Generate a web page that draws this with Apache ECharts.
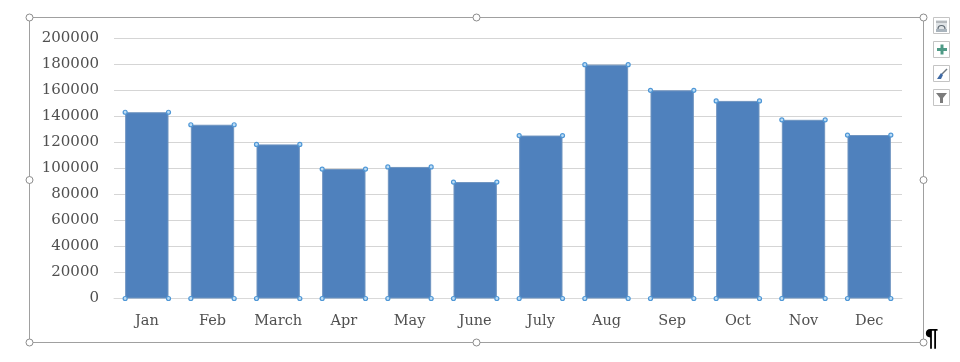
<!DOCTYPE html>
<html><head><meta charset="utf-8">
<style>html,body{margin:0;padding:0;background:#fff}#c{width:960px;height:362px}</style>
<script src="https://cdn.jsdelivr.net/npm/echarts@6/dist/echarts.min.js"></script>
</head><body><div id="c"></div>
<script>
const categories=['Jan','Feb','March','Apr','May','June','July','Aug','Sep','Oct','Nov','Dec'];
const values=[143000,133400,118300,99400,101000,89400,125100,179500,159800,151700,137200,125500];
const FONT='"DejaVu Serif"';
const chart=echarts.init(document.getElementById('c'),null,{renderer:'canvas'});
const BAR=0.66;
function handle(x,y){return {type:'circle',shape:{cx:x,cy:y,r:3.5},style:{fill:'#fff',stroke:'#8c8c8c',lineWidth:1},z:20};}
function box(y){return {type:'rect',shape:{x:933.5,y:y+.5,width:16,height:16},style:{fill:'#fff',stroke:'#c4c4c4',lineWidth:1},z:20};}
const frame={type:'rect',shape:{x:29.5,y:17.5,width:894,height:325},style:{fill:'none',stroke:'#a0a0a0',lineWidth:1},z:19};
const graphics=[frame,
 handle(29.5,17.5),handle(476.5,17.5),handle(923.5,17.5),handle(29.5,180),handle(923.5,180),handle(29.5,342.5),handle(476.5,342.5),handle(923.5,342.5),
 box(17),box(41),box(65),box(89),
 {type:'rect',shape:{x:936,y:20,width:11,height:11},style:{fill:'#dfe3e6'},z:21},
 {type:'rect',shape:{x:936,y:29,width:11,height:3},style:{fill:'#a9b4bd'},z:21},
 {type:'line',shape:{x1:936,y1:22,x2:947,y2:22},style:{stroke:'#8a8f94',lineWidth:1},z:21},
 {type:'arc',shape:{cx:941.5,cy:29,r:3.5,startAngle:Math.PI,endAngle:0},style:{fill:'none',stroke:'#5f6a73',lineWidth:1.2},z:22},
 {type:'rect',shape:{x:937,y:48,width:10,height:3},style:{fill:'#4f9a86'},z:21},
 {type:'rect',shape:{x:940.5,y:44.5,width:3,height:10},style:{fill:'#4f9a86'},z:21},
 {type:'line',shape:{x1:942,y1:74,x2:947,y2:69},style:{stroke:'#6d7780',lineWidth:1.5},z:21},
 {type:'polygon',shape:{points:[[937,79],[941,73],[943,75],[941,79]]},style:{fill:'#3f6aa5'},z:21},
 {type:'polygon',shape:{points:[[936,93],[947,93],[943,98],[943,103],[940,103],[940,98]]},style:{fill:'#7b7b7b'},z:21},
 {type:'text',style:{x:925,y:327,text:'\u00B6',font:'bold 24px "Liberation Sans"',fill:'#000'},z:21}
];
chart.setOption({
 animation:false,backgroundColor:'#fff',
 graphic:graphics,
 grid:{left:114,right:58,top:38,bottom:63.5,containLabel:false},
 xAxis:{type:'category',data:categories,axisTick:{show:false},
  axisLine:{lineStyle:{color:'#d9d9d9',width:1}},
  axisLabel:{color:'#505050',fontFamily:FONT,fontSize:14.5,margin:15,interval:0}},
 yAxis:{type:'value',min:0,max:200000,interval:20000,axisLine:{show:false},axisTick:{show:false},
  axisLabel:{color:'#505050',fontFamily:FONT,fontSize:15,margin:15,padding:[2,0,0,0],formatter:v=>String(v)},
  splitLine:{lineStyle:{color:'#d5d5d5',width:1}}},
 series:[
  {type:'bar',data:values,barWidth:(BAR*100)+'%',itemStyle:{color:'#4f81bd',borderColor:'#6f94c0',borderWidth:1},z:3},
  {type:'custom',data:values,z:5,silent:true,
   renderItem:(p,api)=>{
    const i=api.value(0),v=api.value(1);
    const top=api.coord([i,v]),bot=api.coord([i,0]),w=api.size([1,0])[0]*BAR/2;
    const dot=(x,y)=>({type:'circle',shape:{cx:x,cy:y,r:2},style:{fill:'#bcdcf5',stroke:'#4f97d6',lineWidth:1.2}});
    return {type:'group',children:[dot(top[0]-w,top[1]),dot(top[0]+w,top[1]),dot(bot[0]-w,bot[1]),dot(bot[0]+w,bot[1])]};
   },
   encode:{x:0,y:1}}
 ]
});
</script></body></html>
